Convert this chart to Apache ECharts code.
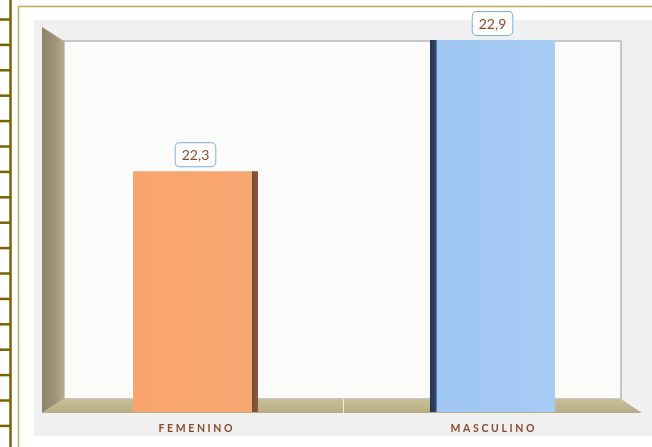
<!DOCTYPE html>
<html>
<head>
<meta charset="utf-8">
<script src="https://cdn.jsdelivr.net/npm/echarts@6/dist/echarts.min.js"></script>
<style>
html, body { margin: 0; padding: 0; background: #fff; }
#chart { width: 652px; height: 447px; }
</style>
</head>
<body>
<div id="chart"></div>
<script>
// datos
var categorias = ['FEMENINO', 'MASCULINO']
var valores = [22.3, 22.9]
var yMin = 21.2
var yMax = 22.9

var chart = echarts.init(document.getElementById('chart'), null, { renderer: 'canvas' })

// regla decorativa a la izquierda
var regla = []
for (var y = 19.5; y < 447; y += 25.4) {
	regla.push({
		type: 'line',
		shape: { x1: 0, y1: y, x2: 10, y2: y },
		style: { stroke: '#7f6000', lineWidth: 2.5 }
	})
}

var barColors = [
	new echarts.graphic.LinearGradient(0, 0, 1, 0, [
		{ offset: 0, color: '#f8a46c' },
		{ offset: 0.95, color: '#f7a772' },
		{ offset: 0.955, color: '#7a4c34' },
		{ offset: 1, color: '#8a5a3e' }
	]),
	new echarts.graphic.LinearGradient(0, 0, 1, 0, [
		{ offset: 0, color: '#22324a' },
		{ offset: 0.05, color: '#34486a' },
		{ offset: 0.055, color: '#9fc6f2' },
		{ offset: 1, color: '#a6cbf5' }
	])
]

chart.setOption({
	animation: false,
	graphic: [
		// marco
		{ type: 'rect', shape: { x: 34, y: 20, width: 618, height: 416 }, style: { fill: '#f0f0f0' } },
		{ type: 'line', shape: { x1: 18.5, y1: 6, x2: 18.5, y2: 447 }, style: { stroke: '#c2a75a', lineWidth: 1.5 } },
		{ type: 'line', shape: { x1: 18, y1: 6.5, x2: 652, y2: 6.5 }, style: { stroke: '#c2a75a', lineWidth: 1.5 } },
		{ type: 'line', shape: { x1: 10.5, y1: 0, x2: 10.5, y2: 447 }, style: { stroke: '#7f6000', lineWidth: 2.5 } },
		// caja 3d
		{ type: 'rect', shape: { x: 64, y: 41, width: 557, height: 358 }, style: { fill: '#fbfbfa', stroke: '#b8b8b8', lineWidth: 1.5 } },
		{
			type: 'polygon',
			shape: { points: [[42, 27], [64, 41], [64, 399], [42, 413]] },
			style: {
				fill: new echarts.graphic.LinearGradient(0, 0, 1, 0, [
					{ offset: 0, color: '#8c8468' },
					{ offset: 0.6, color: '#9f9679' },
					{ offset: 1, color: '#b3ab90' }
				])
			}
		},
		{
			type: 'polygon',
			shape: { points: [[42, 413], [64, 399], [621, 399], [642, 413]] },
			style: {
				fill: new echarts.graphic.LinearGradient(0, 0, 0, 1, [
					{ offset: 0, color: '#c9c09a' },
					{ offset: 1, color: '#b7ac84' }
				])
			}
		},
		{ type: 'line', shape: { x1: 343.5, y1: 399, x2: 343.5, y2: 413 }, style: { stroke: '#f3eed6', lineWidth: 1 } }
	].concat(regla),
	grid: {
		left: 47,
		right: 11,
		top: 40,
		bottom: 35
	},
	xAxis: {
		type: 'category',
		data: categorias,
		axisLine: { show: false },
		axisTick: { show: false },
		axisLabel: {
			color: '#8b4a2b',
			fontFamily: 'Lato',
			fontWeight: 'bold',
			fontSize: 10.5,
			margin: 11,
			formatter: function (v) { return v.split('').join('\u2005') }
		}
	},
	yAxis: {
		type: 'value',
		min: yMin,
		max: yMax,
		show: false,
		splitLine: { show: false }
	},
	series: [{
		type: 'bar',
		z: 5,
		data: valores.map(function (v, i) {
			return { value: v, itemStyle: { color: barColors[i] } }
		}),
		barWidth: 125,
		label: {
			show: true,
			position: 'top',
			distance: 5,
			formatter: function (p) { return String(p.value).replace('.', ',') },
			color: '#8b4a2b',
			fontFamily: 'Lato',
			fontSize: 14,
			backgroundColor: '#ffffff',
			borderColor: '#7eaede',
			borderWidth: 1,
			borderRadius: 4,
			padding: [5, 6, 4, 6]
		}
	}]
})
</script>
</body>
</html>
